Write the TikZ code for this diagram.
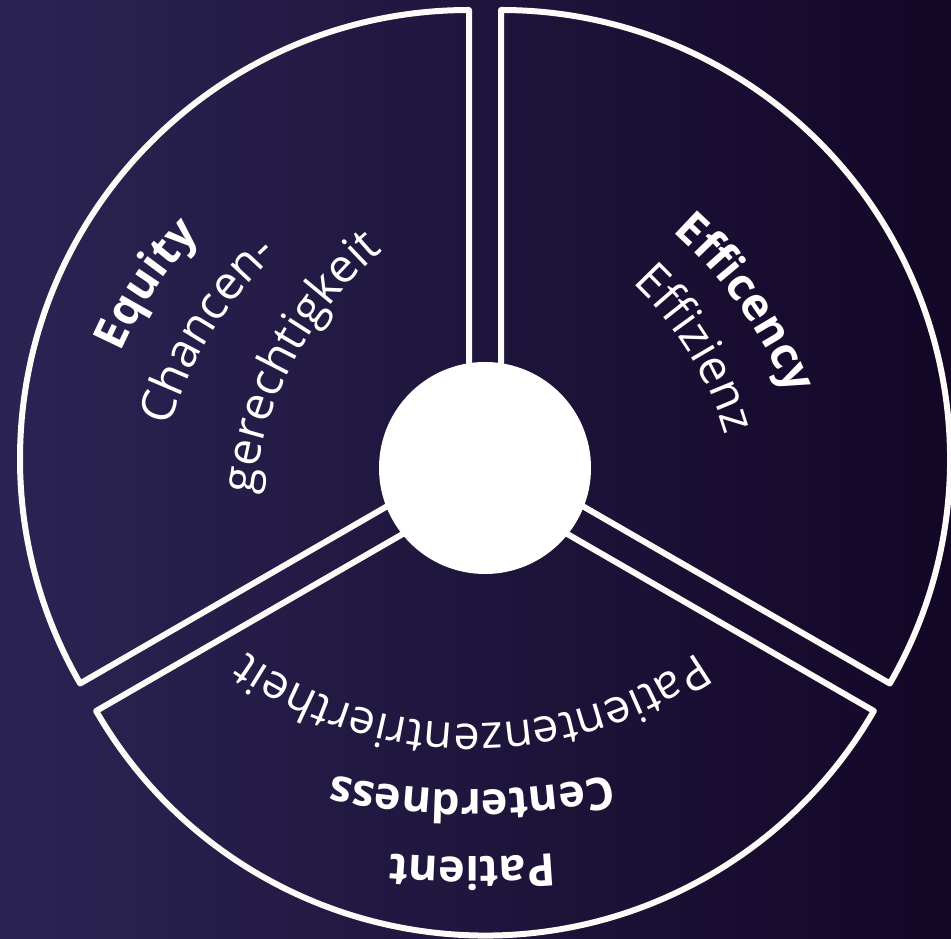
\documentclass[tikz,border=0pt]{standalone}
\usepackage{fontspec}
\setmainfont{Open Sans}
\usetikzlibrary{decorations.text}
\definecolor{bgL}{RGB}{43,36,83}
\definecolor{bgR}{RGB}{19,7,39}
\definecolor{rim}{RGB}{253,251,247}
\tikzset{
  sector/.style={draw=rim, line width=6pt, line join=round},
  hub/.style={circle, fill=white, minimum size=212pt, inner sep=0pt},
}
% #1 X, #2 Y (image px, y down), #3 reading direction, #4 radius, #5 half sweep, #6 text
\newcommand\myArcText[6]{%
  \pgfmathsetmacro\myCx{#1 - #4*cos(#3+90)}%
  \pgfmathsetmacro\myCy{(939-#2) - #4*sin(#3+90)}%
  \pgfmathsetmacro\mySa{#3+90+#5}%
  \pgfmathsetmacro\myEa{#3+90-#5}%
  \path[decorate, decoration={text along path, text align=center, text={#6}}]
    (\myCx,\myCy) ++(\mySa:#4pt) arc[start angle=\mySa, end angle=\myEa, radius=#4pt];
}
\newcommand\fB{\color{white}\fontsize{45pt}{50pt}\selectfont\bfseries}
\newcommand\fR{\color{white}\fontsize{47pt}{52pt}\selectfont}
\begin{document}
\begin{tikzpicture}[x=1pt,y=1pt]
\useasboundingbox (0,0) rectangle (951,939);
\shade[left color=bgL, right color=bgR] (0,0) rectangle (951,939);
% sectors
\draw[sector] (469,480) -- ++(90:449pt) arc[start angle=90, end angle=210, radius=449pt] -- cycle;
\draw[sector] (501,480) -- ++(-30:449pt) arc[start angle=-30, end angle=90, radius=449pt] -- cycle;
\draw[sector] (485,452.5) -- ++(210:449pt) arc[start angle=210, end angle=330, radius=449pt] -- cycle;
% hub
\node[hub] (hub) at (485,471) {};
% Equity
\myArcText{155}{290}{56}{400}{22}{|\fB|Equity}
\myArcText{212}{333}{58}{380}{30}{|\fR|Chancen-}
\myArcText{295}{360}{62}{370}{44}{|\fR|gerechtigkeit}
% Efficiency
\myArcText{740}{307}{-54.5}{450}{22}{|\fB|Efficency}
\myArcText{689}{353}{-58.4}{340}{30}{|\fR|Effizienz}
% Patient
\myArcText{472}{857}{180}{1000}{12}{|\fB|Patient}
\myArcText{472}{790}{180}{680}{30}{|\fB|Centerdness}
\myArcText{472}{724}{180}{392}{50}{|\fR|Patientenzentriertheit}
\end{tikzpicture}
\end{document}
